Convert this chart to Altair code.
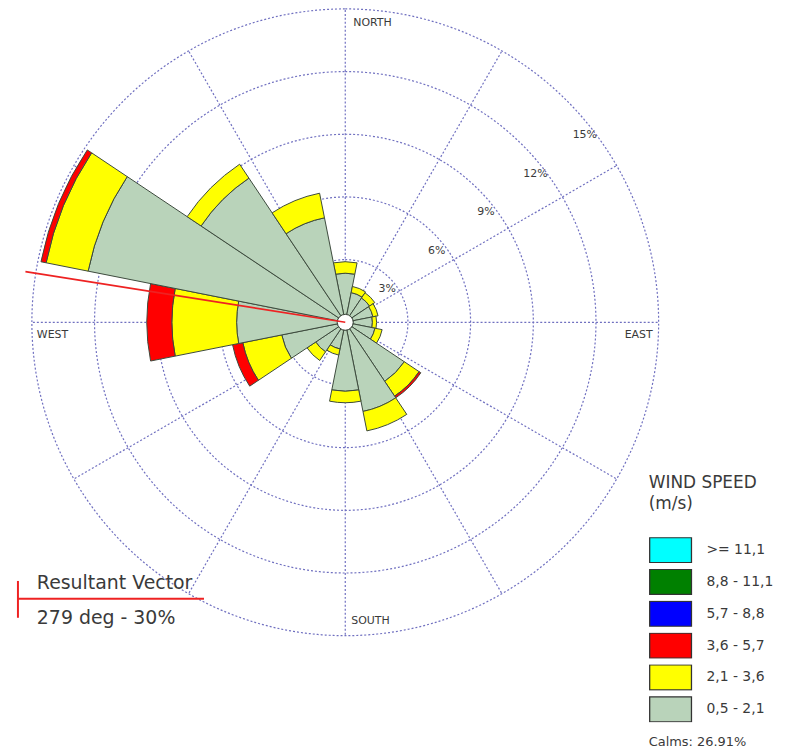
import altair as alt
import numpy as np
import pandas as pd

# ---------------- data ----------------
directions = ["N", "NNE", "NE", "ENE", "E", "ESE", "SE", "SSE",
              "S", "SSW", "SW", "WSW", "W", "WNW", "NW", "NNW"]
bearings = [0.0, 22.5, 45.0, 67.5, 90.0, 112.5, 135.0, 157.5,
            180.0, 202.5, 225.0, 247.5, 270.0, 292.5, 315.0, 337.5]

speed_classes = [">= 11,1", "8,8 - 11,1", "5,7 -  8,8", "3,6 -  5,7", "2,1 -  3,6", "0,5 -  2,1"]
class_colors = ["#00ffff", "#008000", "#0000ff", "#ff0000", "#ffff00", "#b9d3ba"]

# frequency (%) per direction for each speed class
pct_05_21 = [2.35, 1.45, 1.40, 1.35, 1.30, 1.45, 3.40, 4.35, 3.30, 1.30, 1.70, 3.10, 5.20, 12.55, 8.30, 5.10]
pct_21_36 = [0.55, 0.30, 0.30, 0.25, 0.20, 0.35, 0.85, 0.95, 0.55, 0.30, 0.50, 1.90, 3.10, 2.05, 0.80, 1.20]
pct_36_57 = [0.00, 0.00, 0.00, 0.00, 0.00, 0.00, 0.10, 0.00, 0.00, 0.00, 0.00, 0.50, 1.20, 0.25, 0.00, 0.00]

ring_values = [3, 6, 9, 12, 15]
ring_labels = ["3%", "6%", "9%", "12%", "15%"]
spoke_bearings = [0, 30, 60, 90, 120, 150, 180, 210, 240, 270, 300, 330]
compass_names = ["NORTH", "EAST", "SOUTH", "WEST"]
compass_bearings = [0, 90, 180, 270]

calms_text = "Calms: 26.91%"
resultant_dir = 279
resultant_len = 15.5
resultant_title = "Resultant Vector"
resultant_text = "279 deg - 30%"

# ---------------- geometry / scales ----------------
K = 21.0                      # pixels per percent
W, H = 678, 628               # plot area; polar centre is its middle
CX, CY = W / 2, H / 2
FONT = "DejaVu Sans"
GRID = "#7070c0"
TXT = "#3a3a3a"

xs = alt.Scale(domain=[-CX / K, CX / K], range=[0, W], nice=False, zero=False)
ys = alt.Scale(domain=[-CY / K, CY / K], range=[H, 0], nice=False, zero=False)
th_scale = alt.Scale(domain=[0, 360], range=[0, 2 * np.pi])
r_scale = alt.Scale(type="linear", domain=[0, 15], range=[0, 15 * K], zero=True, nice=False)

HOLE = 0.38

rows = []
for d, b, g, y, r in zip(directions, bearings, pct_05_21, pct_21_36, pct_36_57):
    t0 = (b - 11.25) % 360
    t1 = t0 + 22.5
    segs = [(speed_classes[5], g), (speed_classes[4], y), (speed_classes[3], r)]
    start = 0.0
    for cls, v in segs:
        if v <= 0:
            continue
        end = start + v
        rows.append({"dir": d, "t0": t0, "t1": t1,
                     "r0": max(start, HOLE), "r1": end, "cls": cls})
        start = end
petal_df = pd.DataFrame(rows)

ring_df = pd.DataFrame({"r": ring_values})
spoke_df = pd.DataFrame({
    "x0": 0.0, "y0": 0.0,
    "x1": [15 * np.sin(np.radians(b)) for b in spoke_bearings],
    "y1": [15 * np.cos(np.radians(b)) for b in spoke_bearings],
})
LABEL_BEARING = 52
lab_df = pd.DataFrame({
    "label": ring_labels,
    "x": [(v - 0.45) * np.sin(np.radians(LABEL_BEARING)) for v in ring_values],
    "y": [(v - 0.45) * np.cos(np.radians(LABEL_BEARING)) for v in ring_values],
})
comp_df = pd.DataFrame({
    "name": compass_names,
    "x": [15 * np.sin(np.radians(b)) for b in compass_bearings],
    "y": [15 * np.cos(np.radians(b)) for b in compass_bearings],
})
res_df = pd.DataFrame({
    "x0": [0.0], "y0": [0.0],
    "x1": [resultant_len * np.sin(np.radians(resultant_dir))],
    "y1": [resultant_len * np.cos(np.radians(resultant_dir))],
})
hole_df = pd.DataFrame({"r": [HOLE]})

# ---------------- layers ----------------
rings = alt.Chart(ring_df).mark_arc(
    filled=False, stroke=GRID, strokeWidth=1.2, strokeDash=[2, 2],
    theta=0, theta2=6.2832
).encode(radius=alt.Radius("r:Q", scale=r_scale, stack=None))

spokes = alt.Chart(spoke_df).mark_rule(
    color=GRID, strokeWidth=1.2, strokeDash=[2, 2]
).encode(
    x=alt.X("x0:Q", scale=xs, axis=None),
    y=alt.Y("y0:Q", scale=ys, axis=None),
    x2="x1:Q", y2="y1:Q",
)

ring_text = alt.Chart(lab_df).mark_text(
    font=FONT, fontSize=11, color=TXT, align="center", baseline="middle"
).encode(
    x=alt.X("x:Q", scale=xs, axis=None),
    y=alt.Y("y:Q", scale=ys, axis=None),
    text="label:N",
)

def comp(name, align, dx, dy):
    return alt.Chart(comp_df[comp_df["name"] == name]).mark_text(
        font=FONT, fontSize=11, color=TXT, align=align, baseline="alphabetic", dx=dx, dy=dy
    ).encode(
        x=alt.X("x:Q", scale=xs, axis=None),
        y=alt.Y("y:Q", scale=ys, axis=None),
        text="name:N",
    )

north = comp("NORTH", "left", 8, 17)
south = comp("SOUTH", "left", 6, -12)
west = comp("WEST", "left", 5, 16)
east = comp("EAST", "right", -6, 16)

legend = alt.Legend(
    title=["WIND SPEED", "(m/s)"], orient="none", legendX=644, legendY=468,
    symbolType="M-1,-0.6H1V0.6H-1Z", symbolSize=1764,
    symbolStrokeColor="#333333", symbolStrokeWidth=1.3, symbolOpacity=1,
    clipHeight=26, rowPadding=6, labelOffset=14,
    labelFont=FONT, labelFontSize=14, labelColor=TXT, labelLimit=300,
    titleFont=FONT, titleFontSize=17, titleFontWeight="normal", titleColor=TXT,
    titlePadding=24, titleLineHeight=21, titleLimit=400,
)

petals = alt.Chart(petal_df).mark_arc(
    stroke="#3c4a3c", strokeWidth=1, opacity=1
).encode(
    theta=alt.Theta("t0:Q", scale=th_scale),
    theta2="t1:Q",
    radius=alt.Radius("r1:Q", scale=r_scale),
    radius2="r0:Q",
    color=alt.Color("cls:N", scale=alt.Scale(domain=speed_classes, range=class_colors),
                    legend=legend),
)

hole = alt.Chart(hole_df).mark_arc(
    fill="white", stroke="#3c4a3c", strokeWidth=1, theta=0, theta2=6.2832
).encode(radius=alt.Radius("r:Q", scale=r_scale, stack=None))

resultant = alt.Chart(res_df).mark_rule(color="#ee2222", strokeWidth=1.6).encode(
    x=alt.X("x0:Q", scale=xs, axis=None),
    y=alt.Y("y0:Q", scale=ys, axis=None),
    x2="x1:Q", y2="y1:Q",
)

# resultant-vector key (annotation, lower left)
key_df = pd.DataFrame({"a": [0]})
key_line = alt.Chart(key_df).mark_rule(color="#ee2222", strokeWidth=2).encode(
    x=alt.value(10), x2=alt.value(197), y=alt.value(592))
key_bar = alt.Chart(key_df).mark_rule(color="#ee2222", strokeWidth=2).encode(
    x=alt.value(10), y=alt.value(574), y2=alt.value(611))
key_t1 = alt.Chart(key_df).mark_text(
    text=resultant_title, font=FONT, fontSize=19, color=TXT, align="left", baseline="alphabetic"
).encode(x=alt.value(29), y=alt.value(582))
key_t2 = alt.Chart(key_df).mark_text(
    text=resultant_text, font=FONT, fontSize=19, color=TXT, align="left", baseline="alphabetic"
).encode(x=alt.value(29), y=alt.value(617))
calms = alt.Chart(key_df).mark_text(
    text=calms_text, font=FONT, fontSize=13, color=TXT, align="left", baseline="alphabetic"
).encode(x=alt.value(644), y=alt.value(740))

chart = alt.layer(
    rings, spokes, ring_text, north, south, west, east,
    petals, hole, resultant,
    key_line, key_bar, key_t1, key_t2, calms,
).properties(
    width=W, height=H,
    autosize=alt.AutoSizeParams(type="none"),
    padding={"left": 0, "top": 0, "right": 100, "bottom": 115},
    background="white",
).configure_view(stroke=None)

chart.save("out.html", embed_options={"renderer": "svg", "actions": False})
